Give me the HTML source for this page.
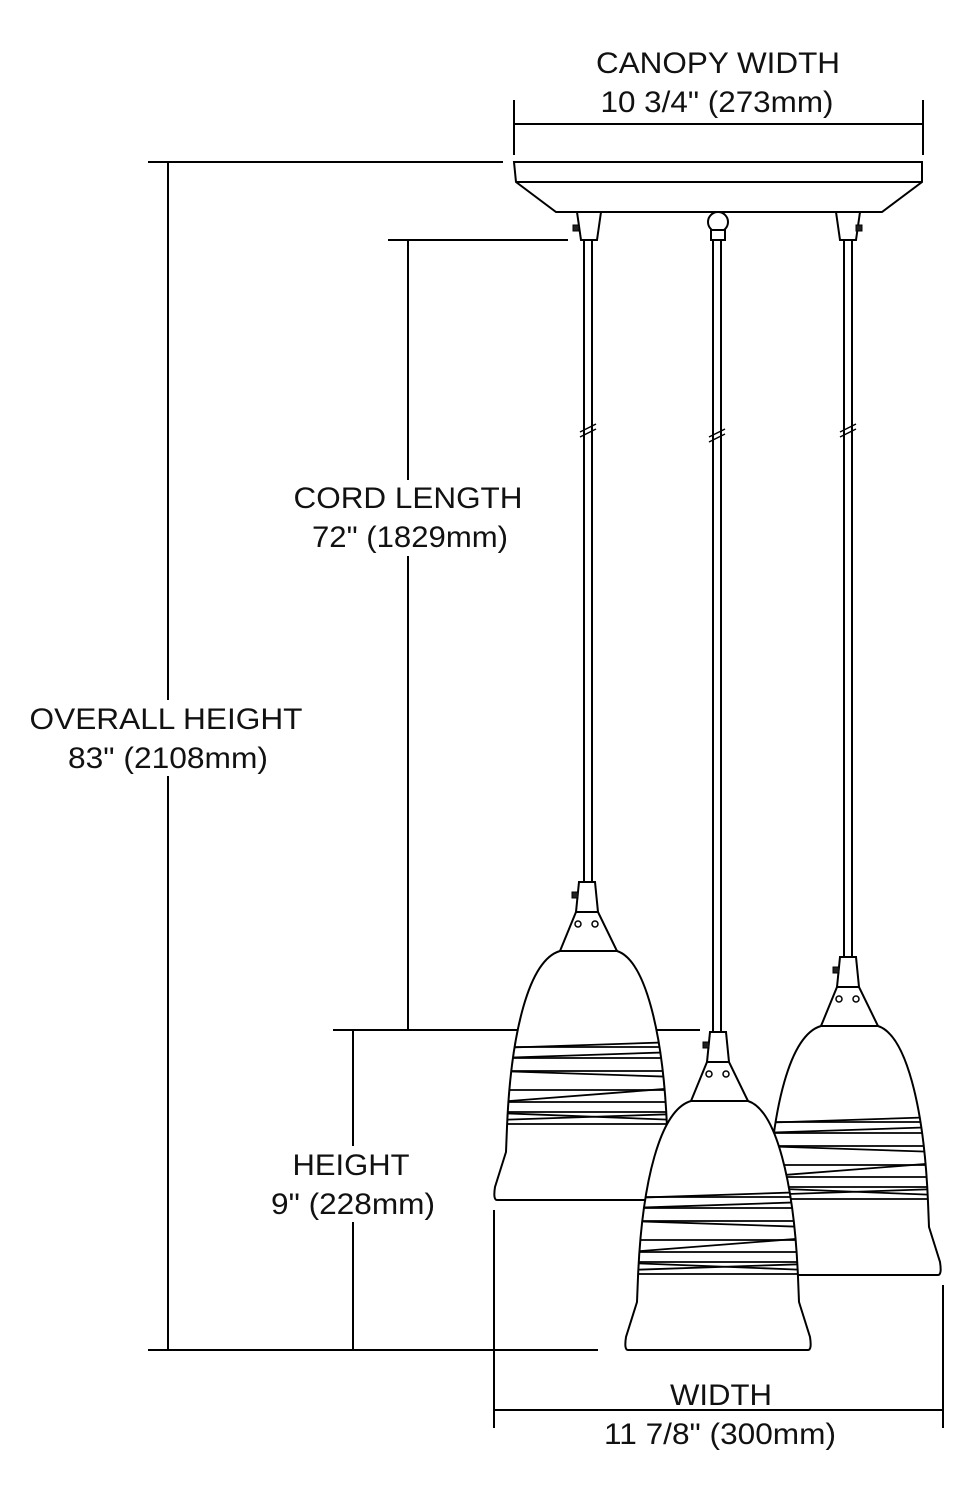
<!DOCTYPE html>
<html><head><meta charset="utf-8"><style>
html,body{margin:0;padding:0;background:#fff;}
svg{display:block;}
text{font-family:"Liberation Sans",sans-serif;font-size:30px;fill:#111;text-anchor:middle;}
</style></head><body>
<svg width="975" height="1500" viewBox="0 0 975 1500" xmlns="http://www.w3.org/2000/svg">
<defs>
<clipPath id="sc"><path d="M-27 69 C-58 78,-76 150,-80 245 L-81 270 L-92 305 Q-94 318,-90 318 L90 318 Q94 318,92 305 L81 270 L80 245 C76 150,58 78,30 69 Z"/></clipPath>
<g id="shade" stroke="#000" stroke-width="2" fill="#fff">
<path d="M-27 69 C-58 78,-76 150,-80 245 L-81 270 L-92 305 Q-94 318,-90 318 L90 318 Q94 318,92 305 L81 270 L80 245 C76 150,58 78,30 69 Z"/>
<polygon points="-8,0 8,0 11,30 -11,30"/>
<polygon points="-11,30 11,30 30,69 -27,69"/>
<circle cx="-9" cy="42" r="3" fill="none" stroke-width="1.5"/>
<circle cx="8" cy="42" r="3" fill="none" stroke-width="1.5"/>
<rect x="-15" y="10" width="6" height="6" fill="#222" stroke-width="1"/>
<g clip-path="url(#sc)" stroke-width="1.8">
<line x1="-90" y1="165" x2="90" y2="165"/>
<line x1="-90" y1="166" x2="90" y2="160"/>
<line x1="-90" y1="176" x2="90" y2="176"/>
<line x1="-90" y1="176" x2="90" y2="170"/>
<line x1="-90" y1="189" x2="90" y2="189"/>
<line x1="-90" y1="189" x2="90" y2="195"/>
<line x1="-90" y1="208" x2="90" y2="208"/>
<line x1="-90" y1="220" x2="90" y2="206"/>
<line x1="-90" y1="220" x2="90" y2="220"/>
<line x1="-90" y1="230" x2="90" y2="230"/>
<line x1="-90" y1="231" x2="90" y2="238"/>
<line x1="-90" y1="238" x2="90" y2="232"/>
<line x1="-90" y1="242" x2="90" y2="242"/>
</g>
</g>
</defs>
<g stroke="#000" stroke-width="2" fill="none">
<path d="M514 162 L922 162 L922 182 L882 212 L556 212 L516 182 Z" fill="#fff"/>
<line x1="516" y1="182" x2="922" y2="182"/>
<polygon points="577,212 601,212 597,240 581,240" fill="#fff"/>
<rect x="573" y="225" width="6" height="6" fill="#222" stroke-width="1"/>
<circle cx="718" cy="222" r="10" fill="#fff"/>
<rect x="711" y="230" width="14" height="10" fill="#fff"/>
<polygon points="836,212 860,212 856,240 840,240" fill="#fff"/>
<rect x="856" y="225" width="6" height="6" fill="#222" stroke-width="1"/>
<line x1="584" y1="240" x2="584" y2="882"/><line x1="592" y1="240" x2="592" y2="882"/>
<line x1="713" y1="240" x2="713" y2="1032"/><line x1="721" y1="240" x2="721" y2="1032"/>
<line x1="844" y1="240" x2="844" y2="957"/><line x1="852" y1="240" x2="852" y2="957"/>
<g stroke-width="1.5">
<line x1="580" y1="432" x2="596" y2="424"/><line x1="580" y1="437" x2="596" y2="429"/>
<line x1="709" y1="437" x2="725" y2="429"/><line x1="709" y1="442" x2="725" y2="434"/>
<line x1="840" y1="432" x2="856" y2="424"/><line x1="840" y1="437" x2="856" y2="429"/>
</g>
<line x1="514" y1="100" x2="514" y2="155"/><line x1="923" y1="100" x2="923" y2="155"/>
<line x1="514" y1="124" x2="923" y2="124"/>
<line x1="148" y1="162" x2="503" y2="162"/>
<line x1="168" y1="162" x2="168" y2="1350"/>
<line x1="148" y1="1350" x2="598" y2="1350"/>
<line x1="388" y1="240" x2="568" y2="240"/>
<line x1="408" y1="240" x2="408" y2="1030"/>
<line x1="333" y1="1030" x2="700" y2="1030"/>
<line x1="353" y1="1030" x2="353" y2="1350"/>
<line x1="494" y1="1210" x2="494" y2="1428"/>
<line x1="943" y1="1285" x2="943" y2="1428"/>
<line x1="494" y1="1410" x2="943" y2="1410"/>
</g>
<use href="#shade" transform="translate(587,882)"/>
<use href="#shade" transform="translate(848,957)"/>
<use href="#shade" transform="translate(718,1032)"/>
<rect x="26" y="700" width="282" height="76" fill="#fff"/>
<rect x="288" y="480" width="240" height="76" fill="#fff"/>
<rect x="266" y="1146" width="174" height="76" fill="#fff"/>
<text x="718" y="73" textLength="244" lengthAdjust="spacingAndGlyphs">CANOPY WIDTH</text>
<text x="717" y="112" textLength="233" lengthAdjust="spacingAndGlyphs">10 3/4" (273mm)</text>
<text x="166" y="729" textLength="273" lengthAdjust="spacingAndGlyphs">OVERALL HEIGHT</text>
<text x="168" y="768" textLength="200" lengthAdjust="spacingAndGlyphs">83" (2108mm)</text>
<text x="408" y="508" textLength="229" lengthAdjust="spacingAndGlyphs">CORD LENGTH</text>
<text x="410" y="547" textLength="196" lengthAdjust="spacingAndGlyphs">72" (1829mm)</text>
<text x="351" y="1175" textLength="117" lengthAdjust="spacingAndGlyphs">HEIGHT</text>
<text x="353" y="1214" textLength="164" lengthAdjust="spacingAndGlyphs">9" (228mm)</text>
<text x="721" y="1405" textLength="102" lengthAdjust="spacingAndGlyphs">WIDTH</text>
<text x="720" y="1444" textLength="232" lengthAdjust="spacingAndGlyphs">11 7/8" (300mm)</text>
</svg>
</body></html>
